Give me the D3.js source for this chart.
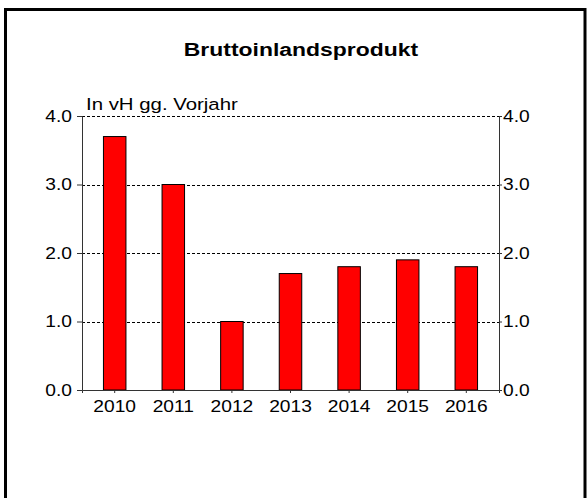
<!DOCTYPE html>
<html>
<head>
<meta charset="utf-8">
<script src="https://cdn.jsdelivr.net/npm/d3@7"></script>
<style>
  body { margin: 0; background: #fff; }
  text { font-family: "Liberation Sans", Arial, sans-serif; fill: #000; }
  /* the reference text is a bit wider than plain Arial */
  text.wide { transform-box: fill-box; transform: scaleX(1.2); }
</style>
</head>
<body>
<div id="chart"></div>
<script>
var svgWidth = 587;
var svgHeight = 498;

// data
var years = ["2010", "2011", "2012", "2013", "2014", "2015", "2016"];
var growth = [3.7, 3.0, 1.0, 1.7, 1.8, 1.9, 1.8];
var yTicks = [0, 1, 2, 3, 4];

var margin = { top: 116, right: 88, bottom: 108, left: 82 };
var width = svgWidth - margin.left - margin.right;
var height = svgHeight - margin.top - margin.bottom;

var svg = d3.select("#chart")
  .append("svg")
  .attr("width", svgWidth)
  .attr("height", svgHeight);

// outer frame
svg.append("rect")
  .attr("x", 5.5)
  .attr("y", 9.5)
  .attr("width", 579.5)
  .attr("height", 520)
  .attr("fill", "none")
  .attr("stroke", "#000")
  .attr("stroke-width", 3);

svg.append("text")
  .attr("class", "wide")
  .attr("x", 301)
  .attr("y", 56)
  .attr("text-anchor", "middle")
  .style("transform-origin", "center")
  .style("transform", "scaleX(1.24)")
  .style("font-size", "18.5px")
  .style("font-weight", "bold")
  .text("Bruttoinlandsprodukt");

var chartGroup = svg.append("g")
  .attr("transform", `translate(${margin.left}, ${margin.top})`);

var xScale = d3.scaleBand()
  .domain(years)
  .range([0, width])
  .paddingInner(0.616)
  .paddingOuter(0.366);

var yScale = d3.scaleLinear()
  .domain([0, 4])
  .range([height, 0]);

// dashed grid
chartGroup.append("g")
  .selectAll("line")
  .data(yTicks.filter(d => d > 0))
  .enter()
  .append("line")
  .attr("x1", 0)
  .attr("x2", width)
  .attr("y1", d => Math.round(yScale(d)) + 0.5)
  .attr("y2", d => Math.round(yScale(d)) + 0.5)
  .attr("stroke", "#000")
  .attr("stroke-dasharray", "3,2");

// bars
chartGroup.selectAll("rect.bar")
  .data(growth)
  .enter()
  .append("rect")
  .attr("class", "bar")
  .attr("x", (d, i) => xScale(years[i]))
  .attr("y", d => yScale(d))
  .attr("width", xScale.bandwidth())
  .attr("height", d => height - yScale(d))
  .attr("fill", "#ff0000")
  .attr("stroke", "#000")
  .attr("stroke-width", 1);

var fmt = d3.format(".1f");

var yAxisLeft = d3.axisLeft(yScale).tickValues(yTicks).tickFormat(fmt).tickSize(5).tickPadding(5);
var yAxisRight = d3.axisRight(yScale).tickValues(yTicks).tickFormat(fmt).tickSize(3).tickPadding(1);
var xAxis = d3.axisBottom(xScale).tickSize(3).tickPadding(8);

var gl = chartGroup.append("g").call(yAxisLeft);
var gr = chartGroup.append("g").attr("transform", `translate(${width}, 0)`).call(yAxisRight);
var gx = chartGroup.append("g").attr("transform", `translate(0, ${height})`).call(xAxis);

[gl, gr, gx].forEach(function(g) {
  g.select(".domain").attr("stroke", "#333");
  g.selectAll(".tick line").attr("stroke", "#333");
  g.selectAll("text")
    .attr("class", "wide")
    .style("font-size", "16px")
    .attr("font-family", null);
});
gl.selectAll("text").style("transform-origin", "right center");
gr.selectAll("text").style("transform-origin", "left center");
gx.selectAll("text").style("transform-origin", "center");

chartGroup.append("text")
  .attr("class", "wide")
  .attr("x", 4)
  .attr("y", -6)
  .style("transform-origin", "left center")
  .style("font-size", "17px")
  .text("In vH gg. Vorjahr");
</script>
</body>
</html>
